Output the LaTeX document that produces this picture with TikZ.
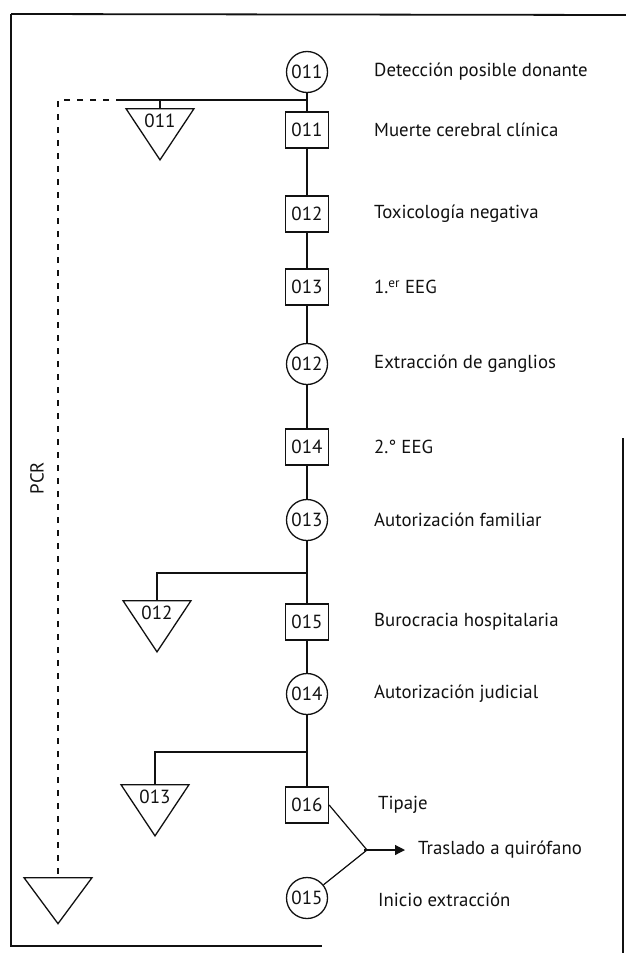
\documentclass[tikz,border=0pt]{standalone}
\usepackage{fontspec}
\setmainfont{PT Sans}
\usepackage{tikz}
\usetikzlibrary{arrows.meta,positioning,calc,shapes.geometric}
\definecolor{Ink}{HTML}{111111}
\tikzset{
  code/.style={font=\fontsize{19}{21}\selectfont,text=Ink,inner sep=0pt},
  event/.style={code,circle,draw=Ink,line width=1.3pt,minimum size=41pt},
  task/.style={code,rectangle,draw=Ink,line width=1.3pt,minimum width=43pt,minimum height=36pt},
  stock/.style={code,isosceles triangle,isosceles triangle stretches,shape border rotate=270,draw=Ink,line width=1.3pt,minimum width=68pt,minimum height=46pt},
  caption/.style={font=\fontsize{18.8}{21}\selectfont,text=Ink,anchor=west,inner sep=0pt},
  link/.style={draw=Ink,line width=1.2pt},
  pcr/.style={link,dash pattern=on 6pt off 7pt},
  frame/.style={draw=Ink,line width=1.8pt},
  arrow/.style={link,-{Triangle[length=10pt,width=10pt]},shorten >=13pt}
}
\begin{document}
\begin{tikzpicture}[x=1pt,y=-1pt]
  \useasboundingbox (0,0) rectangle (626,953);
  % frame of the scanned figure
  \draw[frame] (11,14) -- (626,15);
  \draw[frame] (11,14) -- (11,946) -- (322,946);
  \draw[frame] (623,438) -- (623,953);
  % main sequence
  \node[event] (det) at (307,72) {011};
  \node[task] (muerte) at (307,130) {011};
  \node[task] (toxi) at (307,214) {012};
  \node[task] (eeg1) at (307,287) {013};
  \node[event] (gangl) at (307,364) {012};
  \node[task] (eeg2) at (307,447) {014};
  \node[event] (autfam) at (307,520) {013};
  \node[task] (buro) at (307,622) {015};
  \node[event] (autjud) at (307,694) {014};
  \node[task] (tipaje) at (307,805) {016};
  \node[event] (inicio) at (307,898) {015};
  \node[caption] at (374,72) {Detección posible donante};
  \node[caption] at (374,130) {Muerte cerebral clínica};
  \node[caption] at (374,214) {Toxicología negativa};
  \node[caption] at (374,287) {1.\textsuperscript{er} EEG};
  \node[caption] at (374,364) {Extracción de ganglios};
  \node[caption] at (374,447) {2.° EEG};
  \node[caption] at (374,520) {Autorización familiar};
  \node[caption] at (374,622) {Burocracia hospitalaria};
  \node[caption] at (374,694) {Autorización judicial};
  \node[caption] at (378,805) {Tipaje};
  \node[caption] at (378,900) {Inicio extracción};
  \draw[link] (det) -- (muerte);
  \draw[link] (muerte) -- (toxi);
  \draw[link] (toxi) -- (eeg1);
  \draw[link] (eeg1) -- (gangl);
  \draw[link] (gangl) -- (eeg2);
  \draw[link] (eeg2) -- (autfam);
  \draw[link] (autfam) -- (buro);
  \draw[link] (buro) -- (autjud);
  \draw[link] (autjud) -- (tipaje);
  % side stores
  \node[stock,anchor=north] (t011) at (160,108) {011};
  \node[stock,anchor=north] (t012) at (157,600) {012};
  \node[stock,anchor=north] (t013) at (155,784) {013};
  \node[stock,anchor=north] (tpcr) at (58,877) {};
  \coordinate (b1) at (307,100);
  \coordinate (s1) at (122,100);
  \coordinate (k1) at (58,100);
  \coordinate (b2) at (307,573);
  \coordinate (b3) at (307,752);
  \draw[link] (b1) -- (s1);
  \draw[link] (t011.north) -- (t011.north |- b1);
  \draw[link] (b2) -| (t012.north);
  \draw[link] (b3) -| (t013.north);
  \draw[pcr] (s1) -- (k1) -- (tpcr.north);
  \node[caption,rotate=90,anchor=center] (pcrtext) at (37,478) {PCR};
  % end of the sequence
  \coordinate (join) at (367,850);
  \node[caption] (traslado) at (418,850) {Traslado a quirófano};
  \draw[link] (tipaje.east) -- (join);
  \draw[link] (inicio) -- (join);
  \draw[arrow] ([xshift=-3pt]join) -- (traslado.west);
\end{tikzpicture}
\end{document}
